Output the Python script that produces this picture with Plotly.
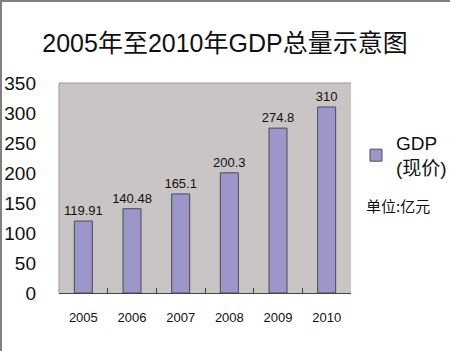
import plotly.graph_objects as go

years = ["2005", "2006", "2007", "2008", "2009", "2010"]
gdp = [119.91, 140.48, 165.1, 200.3, 274.8, 310]
gdp_labels = ["119.91", "140.48", "165.1", "200.3", "274.8", "310"]
y_ticks = [0, 50, 100, 150, 200, 250, 300, 350]

L, R, T, B = 59, 99, 83, 58
W, H = 450, 351
pw, ph = W - L - R, H - T - B

font = "Liberation Sans, Arial, Noto Sans CJK SC, sans-serif"

fig = go.Figure()
fig.add_trace(go.Bar(
    x=years, y=gdp, text=gdp_labels, textposition="outside",
    textfont=dict(size=13, color="#111"),
    constraintext="none",
    cliponaxis=False,
    marker=dict(color="#9d96c8", line=dict(color="#4a4a55", width=1)),
    width=0.37,
    name="GDP<br>(现价)",
    showlegend=True,
))

fig.update_layout(
    width=W, height=H,
    margin=dict(l=L, r=R, t=T, b=B, pad=0, autoexpand=False),
    paper_bgcolor="white", plot_bgcolor="#c9c5c4",
    font=dict(family=font, color="#111"),
    title=dict(text="2005年至2010年GDP总量示意图", x=225 / W, xref="container",
               xanchor="center", y=1 - 43 / H, yref="container", yanchor="middle",
               font=dict(size=25, family="Liberation Sans, Noto Sans CJK SC, sans-serif", color="#111")),
    legend=dict(x=356 / W, y=1 - 124 / H, xref="container", yref="container",
                xanchor="left", yanchor="top",
                font=dict(size=19, color="#111"), bgcolor="rgba(0,0,0,0)",
                itemwidth=30, tracegroupgap=0),
    bargap=0.63,
    showlegend=True,
)
fig.update_xaxes(
    type="category", showgrid=False, tickson="boundaries", ticks="inside", ticklen=5,
    tickcolor="#444", tickfont=dict(size=13), showline=True, linecolor="#444",
    linewidth=1, ticklabelstandoff=12, mirror=False,
)
fig.update_yaxes(
    range=[0, 350], tickvals=y_ticks, showgrid=False, zeroline=False,
    ticks="", tickfont=dict(size=19), ticklabelstandoff=22, showline=False,
)
# plot area subtle border (top/left)
fig.add_shape(type="line", xref="paper", yref="paper", x0=0, x1=0, y0=0, y1=1,
              line=dict(color="#9a9696", width=1))
fig.add_shape(type="line", xref="paper", yref="paper", x0=0, x1=1, y0=1, y1=1,
              line=dict(color="#9a9696", width=1))
# slide border (left/top)
fig.add_shape(type="line", xref="paper", yref="paper", x0=(1 - L) / pw, x1=(1 - L) / pw,
              y0=-B / ph, y1=1 + T / ph, line=dict(color="#808080", width=2))
fig.add_shape(type="line", xref="paper", yref="paper", x0=-L / pw, x1=1 + R / pw,
              y0=1 + (T - 1) / ph, y1=1 + (T - 1) / ph, line=dict(color="#808080", width=2))
fig.add_annotation(text="单位:亿元", xref="paper", yref="paper",
                   x=(364 - L) / pw, y=1 - (205 - T) / ph, xanchor="left", yanchor="middle",
                   showarrow=False, font=dict(size=15, family="Noto Sans CJK SC, sans-serif", color="#111"))

fig.write_html("out.html")
